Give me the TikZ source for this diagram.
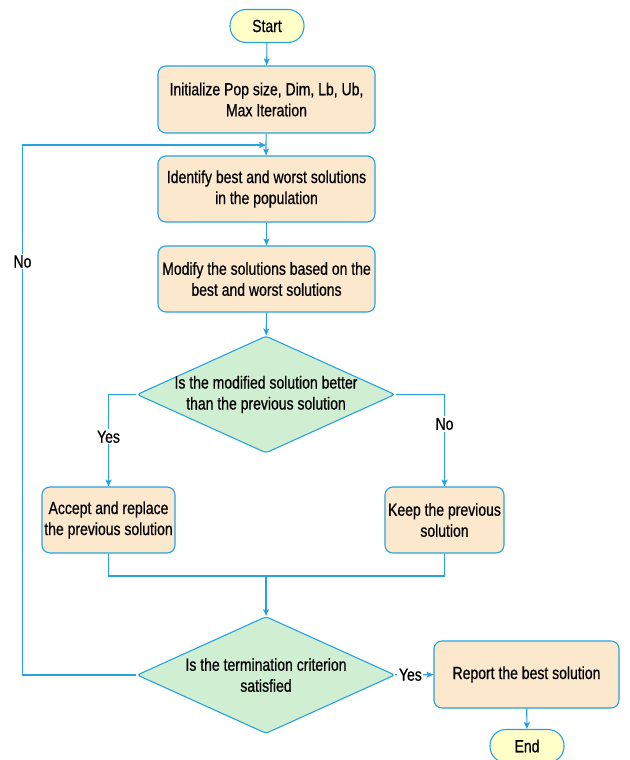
\documentclass[tikz,border=0pt]{standalone}
\usepackage{fontspec}
\setmainfont{Liberation Sans}[FakeStretch=0.8,FakeBold=0.6]
\usetikzlibrary{shapes.geometric,arrows.meta,positioning}
\definecolor{flowblue}{RGB}{40,162,222}
\definecolor{termfill}{RGB}{255,255,200}
\definecolor{procfill}{RGB}{252,232,204}
\definecolor{decfill}{RGB}{208,238,210}

\begin{document}
\begin{tikzpicture}[x=1pt,y=-1pt,>={Stealth[length=7pt,width=6pt,inset=1.5pt]},
        every node/.style={font=\fontsize{17.5}{21}\selectfont},
        terminal/.style={draw=flowblue,fill=termfill,line width=1.1pt,rounded corners=16pt,minimum width=74pt,minimum height=33pt},
        process/.style={draw=flowblue,fill=procfill,line width=1.1pt,rounded corners=8pt,align=center,inner sep=1pt},
        decision/.style={diamond,draw=flowblue,fill=decfill,line width=1.1pt,rounded corners=3pt,aspect=2.2,inner sep=-6pt,minimum width=258pt,minimum height=117pt,align=center},
        flow/.style={draw=flowblue,line width=1.1pt},
        tag/.style={fill=white,inner sep=1.5pt}]
    \useasboundingbox (0,0) rectangle (629,760);
    \node[terminal] (start) at (267,26) {Start};
    \node[process,minimum width=217pt,minimum height=67pt] (init) at (266.5,99.5) {Initialize Pop size, Dim, Lb, Ub,\\Max Iteration};
    \node[process,minimum width=217pt,minimum height=66pt] (ident) at (266.5,189) {Identify best and worst solutions\\in the population};
    \node[process,minimum width=217pt,minimum height=66pt] (modify) at (266.5,279) {Modify the solutions based on the\\best and worst solutions};
    \node[decision] (better) at (266,394.5) {Is the modified solution better\\than the previous solution};
    \node[process,minimum width=133pt,minimum height=66pt] (accept) at (108.5,520) {Accept and replace\\the previous solution};
    \node[process,minimum width=119pt,minimum height=66pt] (keep) at (444.5,520) {Keep the previous\\solution};
    \node[decision] (stop) at (266,675) {Is the termination criterion\\satisfied};
    \node[process,minimum width=185pt,minimum height=67pt] (report) at (526.5,674.5) {Report the best solution};
    \node[terminal] (end) at (527,746) {End};
    \coordinate (join) at (266,145);
    \coordinate (merge) at (266,576);
    \draw[flow,->] (start) -- (init);
    \draw[flow] (init) -- (join);
    \draw[flow,->] (join) -- (ident);
    \draw[flow,->] (ident) -- (modify);
    \draw[flow,->] (modify) -- (better);
    \draw[flow,->] (better.west) -| node[tag,pos=0.73]{Yes} (accept);
    \draw[flow,->] (better.east) -| node[tag,pos=0.66]{No} (keep);
    \draw[flow] (accept) |- (merge) -| (keep);
    \draw[flow,->] (merge) -- (stop);
    \draw[flow,->] (stop) -- node[tag,pos=0.4]{Yes} (report);
    \draw[flow,->] (report) -- (end);
    \draw[flow,->] (stop.west) -- ++(-114,0) |- node[tag,pos=0.39]{No} (join);
\end{tikzpicture}
\end{document}
